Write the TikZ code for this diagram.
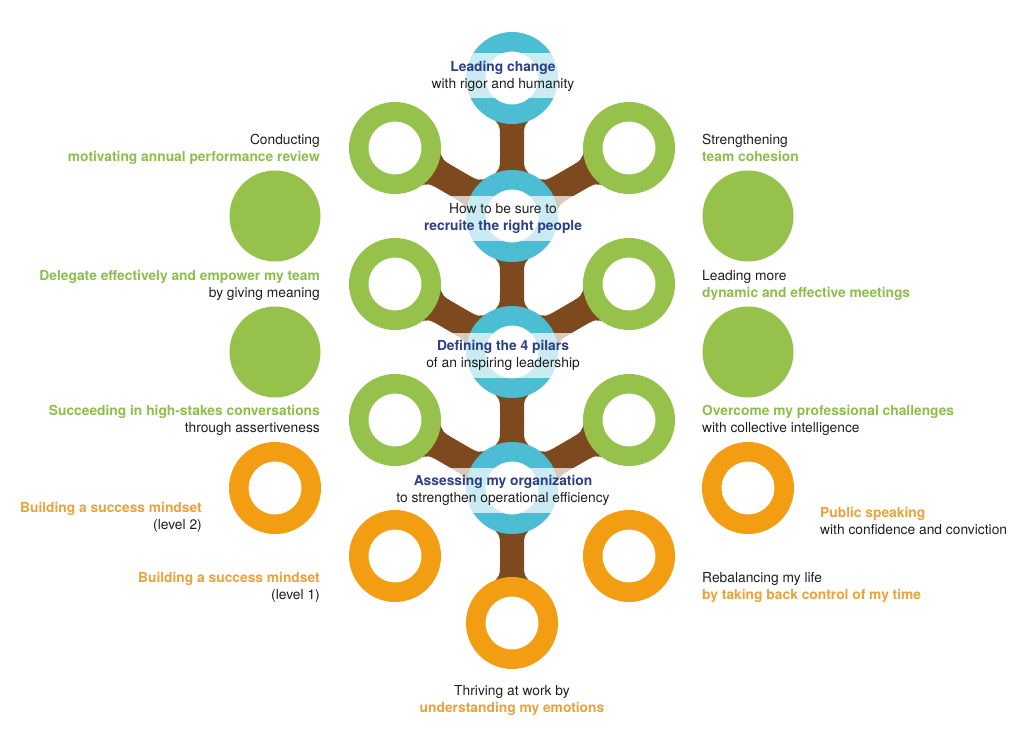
\documentclass[tikz,border=0pt]{standalone}
\usepackage{fontspec}
\setmainfont{TeX Gyre Heros}
\usetikzlibrary{calc}
\definecolor{ringblue}{HTML}{4DBDD3}
\definecolor{navy}{HTML}{2C3E86}
\definecolor{leafgreen}{HTML}{96C14A}
\definecolor{gtext}{HTML}{8DBE4C}
\definecolor{orangec}{HTML}{F39D13}
\definecolor{otext}{HTML}{E9A23B}
\definecolor{bark}{HTML}{7D4A1F}
\definecolor{txtdark}{HTML}{1E1E1E}
\newcommand{\gbf}[1]{\textbf{\color{gtext}#1}}
\newcommand{\obf}[1]{\textbf{\color{otext}#1}}
\newcommand{\nbf}[1]{\textbf{\color{navy}#1}}
% limb between two ring nodes: #1 from, #2 to, #3 half width
\newcommand{\limb}[3]{%
  \path let \p1=($(#2)-(#1)$), \n1={atan2(\y1,\x1)}, \n2={veclen(\x1,\y1)} in
    [fill=bark, shift={(#1)}, rotate=\n1]
    (38,-22) .. controls (47,{-#3}) .. (60,{-#3}) -- ({\n2-60},{-#3})
    .. controls ({\n2-47},{-#3}) .. ({\n2-38},-22) -- ({\n2-38},22)
    .. controls ({\n2-47},#3) .. ({\n2-60},#3) -- (60,#3)
    .. controls (47,#3) .. (38,22) -- cycle;}
\pgfdeclarelayer{bg}
\pgfsetlayers{bg,main}
\begin{document}
\begin{tikzpicture}[x=1pt,y=-1pt,
  ring/.style={circle, line width=19.5pt, fill=white, minimum size=72.5pt, inner sep=0pt},
  bluering/.style={ring, draw=ringblue},
  greenring/.style={ring, draw=leafgreen},
  orangering/.style={ring, draw=orangec},
  disc/.style={circle, fill=leafgreen, minimum size=91pt, inner sep=0pt},
  lbl/.style={font=\fontsize{13.8}{17}\selectfont, inner sep=0pt, text=txtdark},
  bandbox/.style={fill=white, fill opacity=0.7, minimum width=180pt, minimum height=45pt, inner sep=0pt}
]
\useasboundingbox (0,0) rectangle (1024,733);

% central rings
\node[bluering] (b1) at (512,78) {};
\node[bluering] (b2) at (512,216) {};
\node[bluering] (b3) at (512,352) {};
\node[bluering] (b4) at (512,488) {};
\node[orangering] (o0) at (512,623) {};

% side rings
\node[greenring] (gL1) at (395,148) {};
\node[greenring] (gR1) at (629,148) {};
\node[greenring] (gL2) at (395,284) {};
\node[greenring] (gR2) at (629,284) {};
\node[greenring] (gL3) at (395,420) {};
\node[greenring] (gR3) at (629,420) {};
\node[orangering] (oL1) at (395,556) {};
\node[orangering] (oR1) at (629,556) {};

% outer discs and rings
\node[disc] (dL1) at (275,216) {};
\node[disc] (dL2) at (275,352) {};
\node[disc] (dR1) at (748,216) {};
\node[disc] (dR2) at (748,352) {};
\node[orangering] (oL2) at (275,488) {};
\node[orangering] (oR2) at (748,488) {};

% branches
\begin{pgfonlayer}{bg}
\limb{b1}{b2}{12}
\limb{b2}{b3}{12}
\limb{b3}{b4}{12}
\limb{b4}{o0}{12}
\limb{b2}{gL1}{13.5}
\limb{b2}{gR1}{13.5}
\limb{b3}{gL2}{13.5}
\limb{b3}{gR2}{13.5}
\limb{b4}{gL3}{13.5}
\limb{b4}{gR3}{13.5}
\end{pgfonlayer}

% translucent bands over the blue rings
\node[bandbox] (bd1) at (505,76) {};
\node[bandbox] (bd2) at (505,218) {};
\node[bandbox] (bd3) at (505,355) {};
\node[bandbox] (bd4) at (505,490) {};

% central labels
\node[lbl, align=center] (tC1) at (503,76.5) {\strut\nbf{Leading change}\\\strut with rigor and humanity};
\node[lbl, align=center] (tC2) at (503,218.5) {\strut How to be sure to\\\strut\nbf{recruite the right people}};
\node[lbl, align=center] (tC3) at (503,355.5) {\strut\nbf{Defining the 4 pilars}\\\strut of an inspiring leadership};
\node[lbl, align=center] (tC4) at (503,490.5) {\strut\nbf{Assessing my organization}\\\strut to strengthen operational efficiency};
\node[lbl, align=center] (tC5) at (512,700.5) {\strut Thriving at work by\\\strut\obf{understanding my emotions}};

% left labels
\node[lbl, anchor=east, align=right] (tL1) at (320,149.5) {\strut Conducting\\\strut\gbf{motivating annual performance review}};
\node[lbl, anchor=east, align=right] (tL2) at (320,285.5) {\strut\gbf{Delegate effectively and empower my team}\\\strut by giving meaning};
\node[lbl, anchor=east, align=right] (tL3) at (320,420.5) {\strut\gbf{Succeeding in high-stakes conversations}\\\strut through assertiveness};
\node[lbl, anchor=east, align=right] (tL4) at (202,517.5) {\strut\obf{Building a success mindset}\\\strut (level 2)};
\node[lbl, anchor=east, align=right] (tL5) at (320,587.5) {\strut\obf{Building a success mindset}\\\strut (level 1)};

% right labels
\node[lbl, anchor=west, align=left] (tR1) at (702,149.5) {\strut Strengthening\\\strut\gbf{team cohesion}};
\node[lbl, anchor=west, align=left] (tR2) at (702,285.5) {\strut Leading more\\\strut\gbf{dynamic and effective meetings}};
\node[lbl, anchor=west, align=left] (tR3) at (702,420.5) {\strut\gbf{Overcome my professional challenges}\\\strut with collective intelligence};
\node[lbl, anchor=west, align=left] (tR4) at (820,522.5) {\strut\obf{Public speaking}\\\strut with confidence and conviction};
\node[lbl, anchor=west, align=left] (tR5) at (702,587.5) {\strut Rebalancing my life\\\strut\obf{by taking back control of my time}};
\end{tikzpicture}
\end{document}
